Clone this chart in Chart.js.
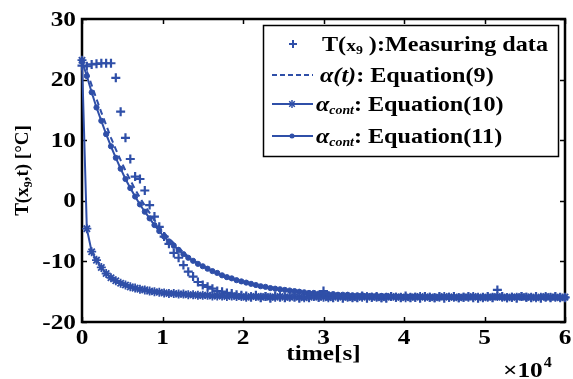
<!DOCTYPE html>
<html lang="en">
<head>
<meta charset="UTF-8">
<title>T(x9,t): measured vs. equations</title>
<style>
    body { margin: 0; background: #fff; }
    #wrap { width: 573px; height: 379px; }
</style>
<script src="https://cdn.jsdelivr.net/npm/chart.js"></script>
</head>
<body>
<div id="wrap"><canvas id="tempChart" width="573" height="379"></canvas></div>
<script>
// time in seconds (sample every 600 s)
const timeS = [
    0, 600, 1200, 1800, 2400, 3000, 3600, 4200, 4800, 5400,
    6000, 6600, 7200, 7800, 8400, 9000, 9600, 10200, 10800, 11400,
    12000, 12600, 13200, 13800, 14400, 15000, 15600, 16200, 16800, 17400,
    18000, 18600, 19200, 19800, 20400, 21000, 21600, 22200, 22800, 23400,
    24000, 24600, 25200, 25800, 26400, 27000, 27600, 28200, 28800, 29400,
    30000, 30600, 31200, 31800, 32400, 33000, 33600, 34200, 34800, 35400,
    36000, 36600, 37200, 37800, 38400, 39000, 39600, 40200, 40800, 41400,
    42000, 42600, 43200, 43800, 44400, 45000, 45600, 46200, 46800, 47400,
    48000, 48600, 49200, 49800, 50400, 51000, 51600, 52200, 52800, 53400,
    54000, 54600, 55200, 55800, 56400, 57000, 57600, 58200, 58800, 59400,
    60000
];

// T(x9): measuring data
const measured = [
    22.3, 22.2, 22.5, 22.6, 22.7, 22.7, 22.7, 20.3, 14.7, 10.4,
    6.9, 4.0, 3.6, 1.7, -0.7, -2.6, -4.3, -5.9, -7.1, -8.6,
    -9.4, -10.6, -11.7, -12.5, -13.4, -13.9, -14.2, -14.5, -14.9, -15.0,
    -15.2, -15.3, -15.5, -15.6, -15.7, -15.9, -15.6, -16.0, -15.8, -16.1,
    -15.7, -15.9, -16.0, -15.8, -15.9, -16.1, -15.8, -16.0, -15.7, -15.9,
    -14.9, -15.8, -16.0, -15.9, -16.1, -15.8, -15.9, -16.0, -15.7, -16.1,
    -15.9, -15.8, -16.0, -16.1, -15.8, -15.9, -16.0, -15.7, -16.0, -15.9,
    -16.1, -15.8, -15.9, -16.0, -15.8, -16.1, -15.9, -15.8, -16.0, -15.9,
    -15.8, -16.0, -16.1, -15.9, -15.8, -16.0, -14.7, -15.8, -16.0, -15.9,
    -16.1, -15.8, -15.9, -16.0, -15.8, -16.1, -15.9, -16.0, -15.8, -15.9,
    -16.0
];

// alpha(t): Equation(9)
const eq9 = [
    22.8, 21.4, 19.1, 16.8, 14.6, 12.5, 10.4, 8.5, 6.7, 5.0,
    3.4, 1.9, 0.5, -0.8, -2.0, -3.2, -4.3, -5.3, -6.2, -7.0,
    -7.8, -8.5, -9.2, -9.8, -10.3, -10.8, -11.2, -11.6, -12.0, -12.3,
    -12.6, -12.8, -13.1, -13.3, -13.5, -13.7, -13.9, -14.1, -14.2, -14.4,
    -14.5, -14.6, -14.7, -14.8, -14.9, -15.0, -15.1, -15.2, -15.2, -15.3,
    -15.3, -15.4, -15.4, -15.5, -15.5, -15.5, -15.6, -15.6, -15.6, -15.7,
    -15.7, -15.7, -15.7, -15.7, -15.8, -15.8, -15.8, -15.8, -15.8, -15.8,
    -15.9, -15.9, -15.9, -15.9, -15.9, -15.9, -15.9, -15.9, -15.9, -15.9,
    -15.9, -15.9, -15.9, -15.9, -15.9, -15.9, -15.9, -15.9, -15.9, -15.9,
    -15.9, -15.9, -16.0, -15.9, -16.0, -15.9, -16.0, -16.0, -15.9, -16.0,
    -16.0
];

// alpha_cont: Equation(10)
const eq10 = [
    23.2, -4.6, -8.4, -9.8, -11.0, -12.0, -12.7, -13.2, -13.6, -13.9,
    -14.2, -14.4, -14.6, -14.7, -14.9, -15.0, -15.1, -15.2, -15.3, -15.3,
    -15.4, -15.4, -15.5, -15.5, -15.6, -15.6, -15.6, -15.7, -15.7, -15.7,
    -15.8, -15.7, -15.8, -15.8, -15.9, -15.8, -15.8, -15.9, -15.8, -15.9,
    -15.9, -15.8, -15.9, -15.9, -15.8, -15.9, -16.0, -15.9, -15.8, -15.9,
    -15.9, -16.0, -15.9, -15.8, -15.9, -15.9, -16.0, -15.9, -15.9, -15.8,
    -15.9, -15.9, -16.0, -15.9, -15.8, -15.9, -15.9, -16.0, -15.9, -15.9,
    -15.8, -15.9, -15.9, -16.0, -15.9, -15.8, -15.9, -15.9, -16.0, -15.9,
    -15.9, -15.8, -15.9, -16.0, -15.9, -15.9, -15.8, -15.9, -16.0, -15.9,
    -15.9, -15.8, -15.9, -15.9, -16.0, -15.9, -15.8, -15.9, -15.9, -16.0,
    -15.9
];

// alpha_cont: Equation(11)
const eq11 = [
    23.0, 20.6, 17.9, 15.4, 13.2, 11.0, 9.0, 7.1, 5.3, 3.6,
    2.1, 0.7, -0.6, -1.8, -2.9, -4.0, -5.0, -5.9, -6.7, -7.4,
    -8.1, -8.8, -9.4, -9.9, -10.4, -10.8, -11.2, -11.6, -11.9, -12.3,
    -12.6, -12.8, -13.1, -13.3, -13.5, -13.7, -13.9, -14.1, -14.2, -14.4,
    -14.5, -14.6, -14.7, -14.8, -14.9, -15.0, -15.1, -15.2, -15.2, -15.3,
    -15.3, -15.4, -15.4, -15.5, -15.5, -15.5, -15.6, -15.6, -15.6, -15.7,
    -15.7, -15.7, -15.7, -15.7, -15.8, -15.8, -15.8, -15.8, -15.8, -15.8,
    -15.9, -15.9, -15.9, -15.9, -15.9, -15.9, -15.9, -15.9, -15.9, -15.9,
    -15.9, -15.9, -15.9, -15.9, -15.9, -15.9, -15.9, -15.9, -15.9, -15.9,
    -15.9, -15.9, -16.0, -15.9, -16.0, -15.9, -16.0, -16.0, -15.9, -16.0,
    -16.0
];

const xTicks = [0, 10000, 20000, 30000, 40000, 50000, 60000];
const xTickLabels = ['0', '1', '2', '3', '4', '5', '6'];
const yTicks = [-20, -10, 0, 10, 20, 30];
const yTickLabels = ['-20', '-10', '0', '10', '20', '30'];

const BLUE = '#2f4fa8';
const SERIF = '"Liberation Serif", "Times New Roman", serif';
const SX = 1.15;   // the original text is a bit wider than Liberation Serif
const bold = sz => `bold ${sz}px ${SERIF}`;
const boldIt = sz => `italic bold ${sz}px ${SERIF}`;

function toPoints(ys) {
    return timeS.map((t, i) => ({ x: t, y: ys[i] }));
}

function textW(ctx, str, font) {
    ctx.font = font;
    return ctx.measureText(str).width * SX;
}

// draw a piece of (stretched) text, return the x after it
function run(ctx, x, y, str, font) {
    ctx.font = font;
    const w = ctx.measureText(str).width;
    ctx.save();
    ctx.translate(x, y);
    ctx.scale(SX, 1);
    ctx.fillText(str, 0, 0);
    ctx.restore();
    return x + w * SX;
}

function seg(ctx, x1, y1, x2, y2) {
    ctx.beginPath();
    ctx.moveTo(x1, y1);
    ctx.lineTo(x2, y2);
    ctx.stroke();
}

function cross(ctx, x, y, r) {
    seg(ctx, x - r, y, x + r, y);
    seg(ctx, x, y - r, x, y + r);
}

function star(ctx, x, y, r) {
    cross(ctx, x, y, r);
    const d = r * 0.7;
    seg(ctx, x - d, y - d, x + d, y + d);
    seg(ctx, x - d, y + d, x + d, y - d);
}

// matlab-like box, inward ticks, tick labels, legend and titles
const framePlugin = {
    id: 'matlabFrame',
    beforeDatasetsDraw(chart) {
        const { ctx, chartArea: a, scales } = chart;
        ctx.save();
        ctx.strokeStyle = '#000';
        ctx.lineWidth = 1.5;
        xTicks.forEach(v => {
            const px = Math.round(scales.x.getPixelForValue(v)) + 0.5;
            seg(ctx, px, a.bottom, px, a.bottom - 5);
            seg(ctx, px, a.top, px, a.top + 5);
        });
        yTicks.forEach(v => {
            const py = Math.round(scales.y.getPixelForValue(v)) + 0.5;
            seg(ctx, a.left, py, a.left + 5, py);
            seg(ctx, a.right, py, a.right - 5, py);
        });
        ctx.lineWidth = 2.5;
        ctx.strokeRect(a.left, a.top, a.right - a.left, a.bottom - a.top);

        // tick labels
        ctx.fillStyle = '#000';
        ctx.textBaseline = 'middle';
        xTicks.forEach((v, i) => {
            const px = scales.x.getPixelForValue(v);
            const w = textW(ctx, xTickLabels[i], bold(22));
            run(ctx, px - w / 2, a.bottom + 16, xTickLabels[i], bold(22));
        });
        yTicks.forEach((v, i) => {
            const py = scales.y.getPixelForValue(v);
            const w = textW(ctx, yTickLabels[i], bold(22));
            run(ctx, 76 - w, py + 1, yTickLabels[i], bold(22));
        });
        ctx.restore();
    },
    afterDraw(chart) {
        const { ctx, chartArea: a } = chart;
        ctx.save();
        ctx.fillStyle = '#000';
        ctx.textBaseline = 'alphabetic';

        // x title and exponent
        const tw = textW(ctx, 'time[s]', bold(22));
        run(ctx, (a.left + a.right) / 2 - tw / 2, 360, 'time[s]', bold(22));
        let x = run(ctx, 503, 377, '\u00d710', bold(22));
        run(ctx, x + 1, 367, '4', bold(14));

        // y title (rotated)
        ctx.save();
        ctx.translate(28, (a.top + a.bottom) / 2);
        ctx.rotate(-Math.PI / 2);
        ctx.font = bold(19);
        const w1 = ctx.measureText('T(x').width;
        ctx.font = bold(12);
        const w2 = ctx.measureText('9').width;
        ctx.font = bold(19);
        const w3 = ctx.measureText(',t) [\u00b0C]').width;
        ctx.font = bold(19);
        x = -(w1 + w2 + w3) / 2;
        ctx.fillText('T(x', x, 0);
        x += w1;
        ctx.font = bold(12);
        ctx.fillText('9', x, 4);
        x += w2;
        ctx.font = bold(19);
        ctx.fillText(',t) [\u00b0C]', x, 0);
        ctx.restore();

        // legend box
        ctx.fillStyle = '#fff';
        ctx.fillRect(263, 25, 295, 132);
        ctx.strokeStyle = '#000';
        ctx.lineWidth = 1.5;
        ctx.strokeRect(263.5, 25.5, 295, 131);

        ctx.fillStyle = '#000';
        ctx.strokeStyle = BLUE;
        ctx.lineWidth = 2;

        // row 1: measuring data
        cross(ctx, 293, 44, 4);
        x = run(ctx, 322, 51, 'T(', bold(21));
        x = run(ctx, x, 51, 'x', bold(17));
        x = run(ctx, x, 54, '9', bold(12));
        run(ctx, x, 51, ' ):Measuring data', bold(21));

        // row 2: equation 9, dashed
        ctx.setLineDash([5, 3]);
        seg(ctx, 272, 75, 313, 75);
        ctx.setLineDash([]);
        x = run(ctx, 320, 82, '\u03b1(t)', boldIt(21));
        run(ctx, x, 82, ': Equation(9)', bold(21));

        // row 3: equation 10, star marker
        seg(ctx, 272, 104, 313, 104);
        ctx.lineWidth = 1.5;
        star(ctx, 292, 104, 4);
        ctx.lineWidth = 2;
        x = run(ctx, 316, 111, '\u03b1', boldIt(21));
        x = run(ctx, x, 114, 'cont', boldIt(12));
        run(ctx, x, 111, ': Equation(10)', bold(21));

        // row 4: equation 11, dot marker
        seg(ctx, 272, 136, 313, 136);
        ctx.fillStyle = BLUE;
        ctx.beginPath();
        ctx.arc(292, 136, 2.5, 0, Math.PI * 2);
        ctx.fill();
        ctx.fillStyle = '#000';
        x = run(ctx, 316, 143, '\u03b1', boldIt(21));
        x = run(ctx, x, 146, 'cont', boldIt(12));
        run(ctx, x, 143, ': Equation(11)', bold(21));

        ctx.restore();
    }
};

const ctx = document.getElementById('tempChart').getContext('2d');
new Chart(ctx, {
    type: 'scatter',
    data: {
        datasets: [
            {
                label: 'alpha(t): Equation(9)',
                data: toPoints(eq9),
                showLine: true,
                borderColor: BLUE,
                borderWidth: 2,
                borderDash: [6, 4],
                pointRadius: 0,
                clip: false
            },
            {
                label: 'alpha_cont: Equation(11)',
                data: toPoints(eq11),
                showLine: true,
                borderColor: BLUE,
                backgroundColor: BLUE,
                borderWidth: 2,
                pointStyle: 'circle',
                pointRadius: 2.6,
                pointBorderWidth: 1,
                clip: false
            },
            {
                label: 'alpha_cont: Equation(10)',
                data: toPoints(eq10),
                showLine: true,
                borderColor: BLUE,
                backgroundColor: BLUE,
                borderWidth: 2,
                pointStyle: 'star',
                pointRadius: 4.5,
                pointBorderWidth: 1.8,
                clip: false
            },
            {
                label: 'T(x9):Measuring data',
                data: toPoints(measured),
                showLine: false,
                borderColor: BLUE,
                pointStyle: 'cross',
                pointRadius: 4.5,
                pointBorderWidth: 2.2,
                clip: false
            }
        ]
    },
    options: {
        responsive: false,
        animation: false,
        layout: { padding: { top: 19, right: 8, left: 0, bottom: 0 } },
        plugins: {
            legend: { display: false },
            tooltip: { enabled: false }
        },
        scales: {
            x: {
                type: 'linear',
                min: 0,
                max: 60000,
                afterFit: s => { s.height = 57; },
                ticks: { display: false },
                grid: { display: false, drawTicks: false },
                border: { display: false }
            },
            y: {
                min: -20,
                max: 30,
                afterFit: s => { s.width = 82; },
                ticks: { display: false },
                grid: { display: false, drawTicks: false },
                border: { display: false }
            }
        }
    },
    plugins: [framePlugin]
});
</script>
</body>
</html>
